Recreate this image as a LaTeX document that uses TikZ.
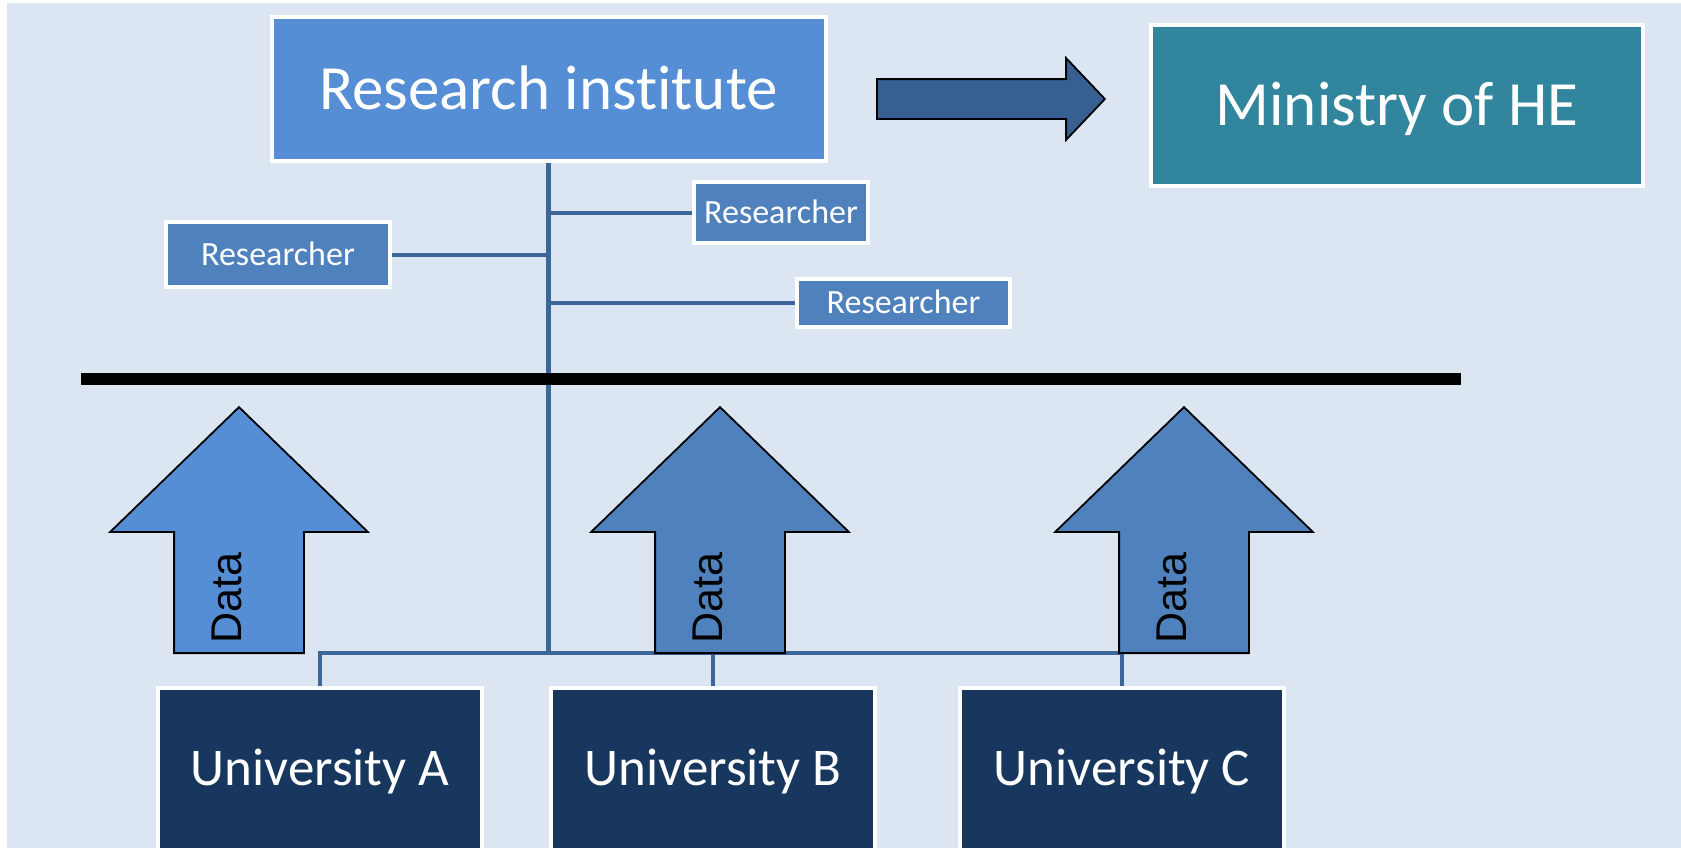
\documentclass[tikz,border=0pt]{standalone}
\usepackage{fontspec}
\setmainfont{Carlito}[Ligatures=NoCommon]
\newfontfamily\datafont{Liberation Sans}
\usetikzlibrary{shapes.arrows}
\definecolor{bgblue}{RGB}{220,230,242}
\definecolor{instblue}{RGB}{85,142,213}
\definecolor{minteal}{RGB}{49,133,156}
\definecolor{resblue}{RGB}{79,129,189}
\definecolor{uninavy}{RGB}{23,55,94}
\definecolor{flowblue}{RGB}{55,96,146}
\definecolor{linkblue}{RGB}{62,103,153}

\begin{document}
\begin{tikzpicture}[x=0.5pt,y=-0.5pt,
  box/.style={draw=white,line width=2pt,rectangle,text=white,inner sep=0pt,text depth=0pt},
  bigbox/.style={box,font=\fontsize{31.5}{36}\selectfont,text height=20pt},
  resbox/.style={box,fill=resblue,font=\fontsize{17}{20}\selectfont,text height=10.8pt},
  unibox/.style={box,fill=uninavy,minimum width=162pt,minimum height=81pt,font=\fontsize{26.5}{30}\selectfont,text height=16.8pt},
  orgline/.style={draw=linkblue,line width=2pt},
  uparrow/.style={single arrow,draw=black,line width=0.9pt,rotate=90,anchor=tail,minimum height=123pt,inner xsep=0pt,inner ysep=32pt,single arrow head extend=32pt,single arrow tip angle=91.8},
  datalbl/.style={rotate=90,anchor=base west,inner sep=0pt,font=\datafont\fontsize{21.5}{24}\selectfont}]
\clip (0,0) rectangle (1681,848);
\fill[white] (0,0) rectangle (1681,848);
\fill[bgblue] (7,3) rectangle (1681,848);

% Institute and ministry
\node[bigbox,fill=instblue,minimum width=277pt,minimum height=72pt] (inst) at (548.5,89) {Research institute};
\node[bigbox,fill=minteal,minimum width=246pt,minimum height=80.5pt] (ministry) at (1397,105.5) {Ministry of HE};
\node[single arrow,draw=black,line width=0.9pt,fill=flowblue,anchor=tail,minimum height=114pt,inner xsep=0pt,inner ysep=9.5pt,single arrow head extend=10.5pt,single arrow tip angle=93] (report) at (876,99) {};

% Researchers
\node[resbox,minimum width=112pt,minimum height=32.5pt] (res1) at (278,254.5) {Researcher};
\node[resbox,minimum width=87pt,minimum height=30.5pt] (res2) at (781,212.5) {Researcher};
\node[resbox,minimum width=106.5pt,minimum height=24pt] (res3) at (903.5,303) {Researcher};

% Universities
\node[unibox] (univA) at (320,769) {University A};
\node[unibox] (univB) at (713,769) {University B};
\node[unibox] (univC) at (1122,769) {University C};

% Links
\coordinate (bus) at (548.5,653);
\draw[orgline,line width=2.5pt] (inst.south) -- (bus);
\draw[orgline] (res1.east) -- (res1.east -| bus);
\draw[orgline] (res2.west) -- (res2.west -| bus);
\draw[orgline] (res3.west) -- (res3.west -| bus);
\draw[orgline] (univA.north) -- (univA.north |- bus) -- (univC.north |- bus) -- (univC.north);
\draw[orgline] (univB.north) -- (univB.north |- bus);

% Data arrows
\node[uparrow,fill=instblue] (dataA) at (239,654) {};
\node[uparrow,fill=resblue] (dataB) at (720,654) {};
\node[uparrow,fill=resblue] (dataC) at (1184,654) {};
\node[datalbl] (lblA) at (241,644) {Data};
\node[datalbl] (lblB) at (722,644) {Data};
\node[datalbl] (lblC) at (1186,644) {Data};

% Separator
\draw[line width=6pt] (81,379) -- (1461,379);
\end{tikzpicture}
\end{document}
